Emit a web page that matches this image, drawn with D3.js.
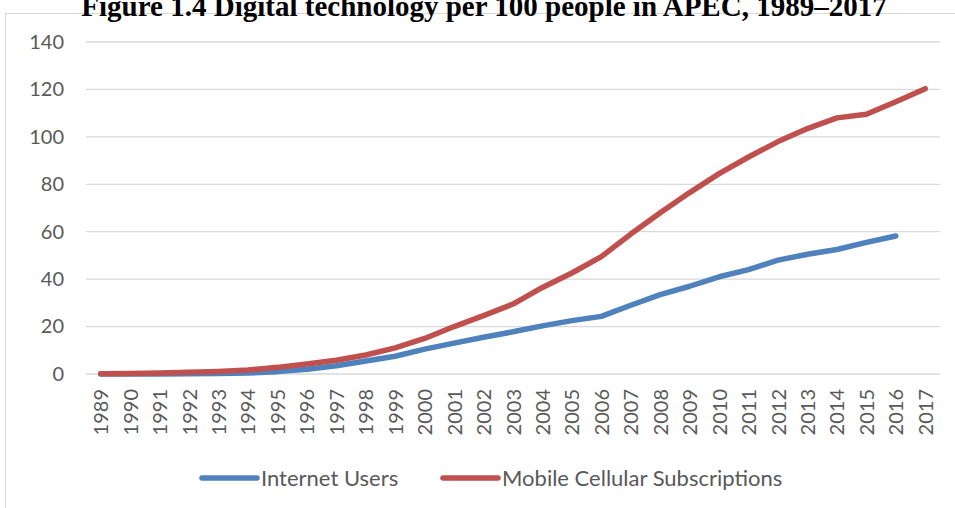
<!DOCTYPE html>
<html>
<head>
<meta charset="utf-8">
<script src="https://cdn.jsdelivr.net/npm/d3@7"></script>
<style>
  body { margin: 0; background: #fff; }
  svg { display: block; }
</style>
</head>
<body>
<svg id="chart"></svg>
<script>
const years = ["1989","1990","1991","1992","1993","1994","1995","1996","1997","1998",
  "1999","2000","2001","2002","2003","2004","2005","2006","2007","2008","2009","2010",
  "2011","2012","2013","2014","2015","2016","2017"];
const internetUsers = [0, 0, 0, 0.1, 0.2, 0.4, 1, 2, 3.5, 5.5, 7.5, 10.5, 13, 15.5,
  17.8, 20.3, 22.5, 24.3, 29, 33.5, 37, 41, 44, 48, 50.5, 52.5, 55.5, 58.2, null];
const mobileSubs = [0.1, 0.2, 0.4, 0.7, 1.1, 1.7, 2.8, 4.2, 5.8, 8, 11, 15, 20, 24.6,
  29.5, 36.5, 42.6, 49.5, 59, 68, 76.5, 84.5, 91.5, 98, 103.5, 108, 109.5, 114.8, 120.3];
const yTicks = [0, 20, 40, 60, 80, 100, 120, 140];
const seriesNames = ["Internet Users", "Mobile Cellular Subscriptions"];
const colors = ["#4f81bd", "#c0504d"];

const W = 955, H = 508;
const font = "Lato, 'Noto Sans', sans-serif";
const svg = d3.select("#chart").attr("width", W).attr("height", H);

// chart area frame
svg.append("rect")
  .attr("x", 5.5).attr("y", 13.5)
  .attr("width", 960).attr("height", 520)
  .attr("fill", "#fff").attr("stroke", "#d9d9d9");

svg.append("text")
  .attr("x", 484).attr("y", 16)
  .attr("text-anchor", "middle")
  .style("font-family", "'Liberation Serif', 'Times New Roman', serif")
  .style("font-weight", "bold")
  .style("font-size", "29px")
  .text("Figure 1.4 Digital technology per 100 people in APEC, 1989–2017");

const x = d3.scalePoint().domain(years).range([86, 940]).padding(0.5);
const y = d3.scaleLinear().domain([0, 140]).range([374, 42]);

// gridlines
svg.append("g")
  .selectAll("line")
  .data(yTicks)
  .join("line")
  .attr("x1", 86).attr("x2", 940)
  .attr("y1", d => y(d)).attr("y2", d => y(d))
  .attr("stroke", "#d9d9d9").attr("stroke-width", 1.3);

const yAxis = svg.append("g")
  .attr("transform", "translate(70,0)")
  .call(d3.axisLeft(y).tickValues(yTicks).tickSize(0).tickPadding(6));
yAxis.select(".domain").remove();
yAxis.selectAll("text")
  .style("font-family", font).style("font-size", "20px").attr("fill", "#595959");

const xAxis = svg.append("g")
  .attr("transform", "translate(0,380)")
  .call(d3.axisBottom(x).tickSize(0));
xAxis.select(".domain").remove();
xAxis.selectAll("text")
  .attr("transform", "rotate(-90)")
  .attr("text-anchor", "end")
  .attr("x", -9).attr("y", 0).attr("dy", "0.35em")
  .style("font-family", font).style("font-size", "20px").attr("fill", "#595959");

const line = d3.line()
  .defined(d => d.v != null)
  .x(d => x(d.year))
  .y(d => y(d.v));

[internetUsers, mobileSubs].forEach((vals, i) => {
  svg.append("path")
    .datum(years.map((yr, j) => ({ year: yr, v: vals[j] })))
    .attr("fill", "none")
    .attr("stroke", colors[i])
    .attr("stroke-width", 5.5)
    .attr("stroke-linecap", "round")
    .attr("stroke-linejoin", "round")
    .attr("d", line);
});

// legend
const legendX = [202, 443];
seriesNames.forEach((name, i) => {
  const g = svg.append("g").attr("transform", `translate(${legendX[i]},478)`);
  g.append("line")
    .attr("x1", 0).attr("x2", 55)
    .attr("stroke", colors[i]).attr("stroke-width", 5.5)
    .attr("stroke-linecap", "round");
  g.append("text")
    .attr("x", 59).attr("dy", "0.35em")
    .style("font-family", font).style("font-size", "22px")
    .attr("fill", "#595959")
    .text(name);
});
</script>
</body>
</html>
